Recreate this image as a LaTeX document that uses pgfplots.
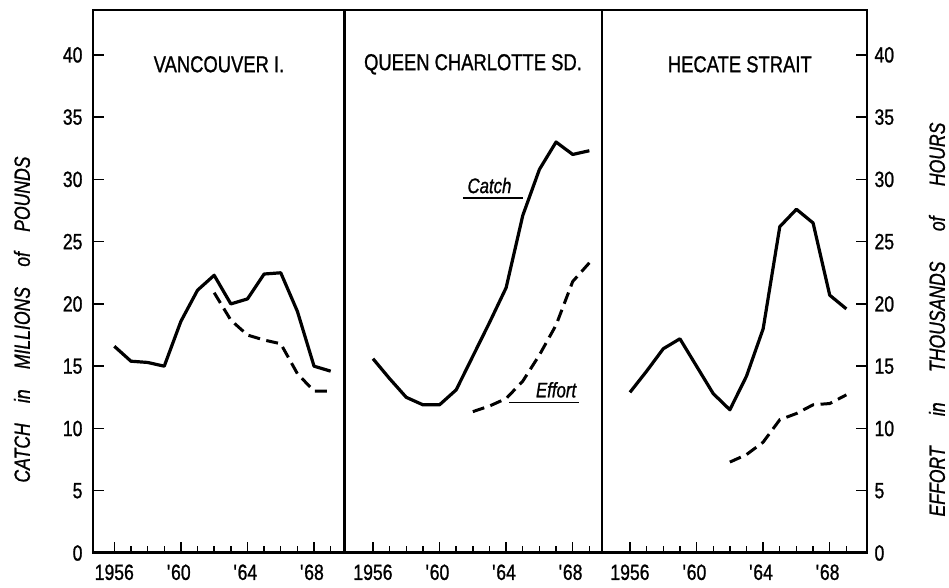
\documentclass[border=0pt]{standalone}
\usepackage{fontspec}
\setmainfont{Liberation Sans}[FakeStretch=0.8, FakeBold=1]
\usepackage{pgfplots}
\pgfplotsset{compat=1.18}
\usepackage{pgfplotstable}

\pgfplotstableread{
year catch
1956 16.6
1957 15.4
1958 15.3
1959 15.0
1960 18.6
1961 21.1
1962 22.3
1963 20.0
1964 20.4
1965 22.4
1966 22.5
1967 19.4
1968 15.0
1969 14.6
}\vancatch
\pgfplotstableread{
year effort
1962 20.9
1963 18.7
1964 17.5
1965 17.1
1966 16.8
1967 14.4
1968 13.0
1969 13.0
}\vaneffort
\pgfplotstableread{
year catch
1956 15.6
1957 14.0
1958 12.5
1959 11.9
1960 11.9
1961 13.1
1962 15.8
1963 18.5
1964 21.3
1965 27.1
1966 30.8
1967 33.0
1968 32.0
1969 32.3
}\qccatch
\pgfplotstableread{
year effort
1962 11.35
1963 11.8
1964 12.4
1965 13.8
1966 15.9
1967 18.3
1968 21.8
1969 23.3
}\qceffort
\pgfplotstableread{
year catch
1956 12.9
1957 14.6
1958 16.4
1959 17.2
1960 15.0
1961 12.8
1962 11.5
1963 14.2
1964 18.0
1965 26.2
1966 27.6
1967 26.5
1968 20.7
1969 19.6
}\hscatch
\pgfplotstableread{
year effort
1962 7.3
1963 7.9
1964 8.9
1965 10.7
1966 11.2
1967 11.9
1968 12.0
1969 12.7
}\hseffort

\tikzset{ttl/.style={font=\fontsize{23}{23}\selectfont}}
\pgfplotsset{
  panel/.style={
    scale only axis, height=543pt, ymin=0, ymax=43.6,
    anchor=south west,
    axis line style={line width=1.3pt},
    xtick={1956,1960,1964,1968},
    xticklabels={1956,\llap{\textquotesingle}60,\llap{\textquotesingle}64,\llap{\textquotesingle}68},
    minor xtick={1957,1958,1959,1961,1962,1963,1965,1966,1967,1969},
    xtick pos=left,
    tick align=inside,
    major tick length=11pt, minor tick length=7pt,
    every tick/.style={black, line width=1.4pt},
    tick label style={font=\fontsize{22}{22}\selectfont},
    xticklabel style={yshift=-8pt},
    /pgf/number format/assume math mode=true,
    ytick={0,5,...,40},
  },
  catch/.style={black, line width=3.2pt, line join=round, no marks},
  effort/.style={black, line width=3pt, dash pattern=on 12pt off 6.5pt, no marks},
}

\begin{document}
\begin{tikzpicture}
\path[use as bounding box] (0,0) rectangle (949pt,588pt);

% Vancouver I.
\begin{axis}[panel, at={(93pt,35pt)}, width=252pt, xmin=1954.72, xmax=1969.86,
  ytick pos=left, yticklabel pos=left,
  yticklabel style={xshift=-7pt},
  ylabel={\itshape CATCH\hspace{0.92em}in\hspace{0.92em}MILLIONS\hspace{0.92em}of\hspace{0.92em}POUNDS},
  ylabel style={at={(axis description cs:-0.282,0.43)}, anchor=center, font=\fontsize{22}{22}\selectfont}]
\addplot[catch] table[x=year,y=catch] {\vancatch};
\addplot[effort] table[x=year,y=effort] {\vaneffort};
\node[ttl] at (axis description cs:0.5,0.90) {VANCOUVER I.};
\draw[line width=3pt] (rel axis cs:0,0) -- (rel axis cs:1,0);
\draw[line width=2pt] (rel axis cs:0,0) -- (rel axis cs:0,1);
\end{axis}

% Queen Charlotte Sd.
\begin{axis}[panel, at={(344pt,35pt)}, width=258pt, xmin=1954.26, xmax=1969.76,
  ytick=\empty]
\addplot[catch] table[x=year,y=catch] {\qccatch};
\addplot[effort] table[x=year,y=effort] {\qceffort};
\node[ttl] at (axis description cs:0.5,0.90) {QUEEN CHARLOTTE SD.};
\node[anchor=base, font=\itshape\fontsize{21}{21}\selectfont] at (axis cs:1963.0,28.9) {Catch};
\draw[line width=1.3pt] (axis cs:1961.4,28.5) -- (axis cs:1965.0,28.5);
\node[anchor=base, font=\itshape\fontsize{21}{21}\selectfont] at (axis cs:1967.0,12.5) {Effort};
\draw[line width=1.3pt] (axis cs:1964.2,12.1) -- (axis cs:1968.4,12.1);
\draw[line width=3pt] (rel axis cs:0,0) -- (rel axis cs:1,0);
\end{axis}

% Hecate Strait
\begin{axis}[panel, at={(602pt,35pt)}, width=265pt, xmin=1954.32, xmax=1970.24,
  ytick pos=right, yticklabel pos=right,
  yticklabel style={xshift=4pt},
  ylabel={\itshape EFFORT\hspace{1.38em}in\hspace{1.38em}THOUSANDS\hspace{1.38em}of\hspace{1.38em}HOURS},
  ylabel style={at={(axis description cs:1.264,0.43)}, anchor=center, font=\fontsize{22}{22}\selectfont}]
\addplot[catch] table[x=year,y=catch] {\hscatch};
\addplot[effort] table[x=year,y=effort] {\hseffort};
\node[ttl] at (axis description cs:0.52,0.90) {HECATE STRAIT};
\draw[line width=3pt] (rel axis cs:0,0) -- (rel axis cs:1,0);
\draw[line width=2pt] (rel axis cs:1,0) -- (rel axis cs:1,1);
\end{axis}
\end{tikzpicture}
\end{document}
